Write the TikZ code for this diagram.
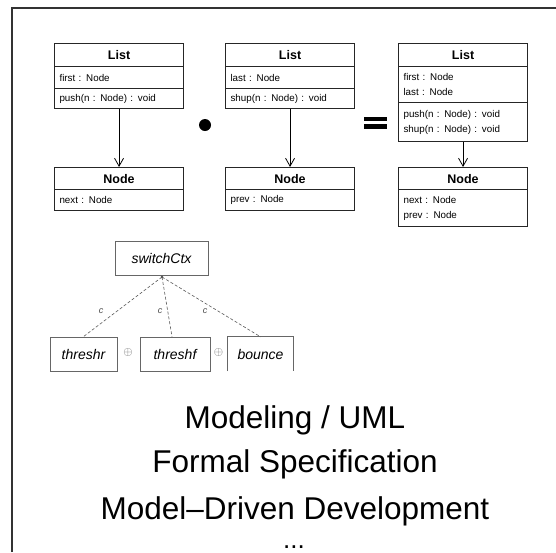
\documentclass[tikz,border=0pt]{standalone}
\usepackage{fontspec}
\setmainfont{Liberation Sans}
\usetikzlibrary{arrows.meta}
\begin{document}
\begin{tikzpicture}[x=1pt,y=-1pt,
  comp/.style={draw=black!85, line width=1.1pt, anchor=north west, minimum width=129pt,
    inner xsep=5pt, inner ysep=0pt, text width=119pt, font=\fontsize{9.8}{15}\selectfont},
  head/.style={comp, align=center, font=\bfseries\fontsize{12.5}{14}\selectfont},
  body/.style={comp, align=left},
  assoc/.style={line width=0.9pt, -{Straight Barb[length=8pt,width=9pt,line width=0.8pt]}},
  feat/.style={draw=black!60, line width=0.8pt, minimum width=#1, minimum height=34pt,
    inner sep=0pt, font=\itshape\fontsize{14}{16}\selectfont},
  tie/.style={draw=black!65, dashed, dash pattern=on 3pt off 2pt, line width=0.6pt},
  lbl/.style={font=\itshape\fontsize{9}{10}\selectfont, text=black!70, inner sep=0pt},
  xorop/.style={text=black!60, inner sep=0pt, font=\fontsize{12}{12}\selectfont},
  big/.style={font=\fontsize{31.5}{32}\selectfont, inner sep=0pt, anchor=base}]
\useasboundingbox (0,0) rectangle (556,552);
\fill[white] (0,0) rectangle (556,552);

% frame
\draw[line width=1.3pt, black!80] (12,552) -- (12,8) -- (556,8);

% class List with first/push
\node[head, minimum height=23pt] (l1h) at (54,43) {List};
\node[body, minimum height=22pt] (l1a) at (54,66) {first : Node};
\node[body, minimum height=20pt] (l1m) at (54,88) {push(n : Node) : void};
\node[head, minimum height=22pt] (n1h) at (54,167) {Node};
\node[body, minimum height=21pt] (n1a) at (54,189) {next : Node};
\draw[assoc] (l1m.south) -- (n1h.north);

% composition dot
\node[circle, fill=black, minimum size=12pt, inner sep=0pt] (dot) at (205,125) {};

% class List with last/shup
\node[head, minimum height=23pt] (l2h) at (225,43) {List};
\node[body, minimum height=22pt] (l2a) at (225,66) {last : Node};
\node[body, minimum height=20pt] (l2m) at (225,88) {shup(n : Node) : void};
\node[head, minimum height=22pt] (n2h) at (225,167) {Node};
\node[body, minimum height=21pt] (n2a) at (225,189) {prev : Node};
\draw[assoc] (l2m.south) -- (n2h.north);

% equals sign
\fill[black] (364,116.5) rectangle (387,121);
\fill[black] (364,124) rectangle (387,128.5);

% merged class
\node[head, minimum height=23pt] (l3h) at (398,43) {List};
\node[body, minimum height=36pt] (l3a) at (398,66) {first : Node\\last : Node};
\node[body, minimum height=39pt] (l3m) at (398,102) {push(n : Node) : void\\shup(n : Node) : void};
\node[head, minimum height=22pt] (n3h) at (398,167) {Node};
\node[body, minimum height=37pt] (n3a) at (398,189) {next : Node\\prev : Node};
\draw[assoc] (l3m.south) -- (n3h.north);

% feature tree
\node[feat=93pt] (sw) at (161.5,258) {switchCtx};
\coordinate (swb) at (162,277);
\fill[black!70] (swb) circle (1.3pt);
\node[feat=67pt] (thr) at (83.5,354) {threshr};
\node[feat=70pt] (thf) at (175,354) {threshf};
\node[minimum width=65pt, minimum height=34pt, inner sep=0pt,
      font=\itshape\fontsize{14}{16}\selectfont] (bnc) at (260.5,354) {bounce};
\draw[black!60, line width=0.8pt] (bnc.south west) -- (bnc.north west) -- (bnc.north east) -- (bnc.south east);
\draw[tie] (swb) -- (thr.north);
\draw[tie] (swb) -- ([xshift=-3pt]thf.north);
\draw[tie] (swb) -- (bnc.north);
\node[lbl] (c1) at (101,311) {c};
\node[lbl] (c2) at (160,311) {c};
\node[lbl] (c3) at (205,311) {c};
\node[xorop] (x1) at (128,352) {$\oplus$};
\node[xorop] (x2) at (218.5,352) {$\oplus$};

% topics
\node[big] (t1) at (295,428) {Modeling / UML};
\node[big] (t2) at (295,472) {Formal Specification};
\node[big] (t3) at (295,519) {Model–Driven Development};
\node[big, font=\fontsize{26}{26}\selectfont] (t4) at (294,548) {...};
\end{tikzpicture}
\end{document}
